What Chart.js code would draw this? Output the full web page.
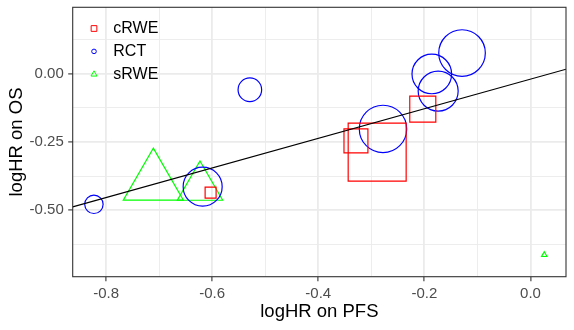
<!DOCTYPE html>
<html>
<head>
<meta charset="utf-8">
<script src="https://cdn.jsdelivr.net/npm/chart.js@4"></script>
<style>
  html, body { margin: 0; padding: 0; background: #fff; }
  #wrap { width: 574px; height: 330px; }
</style>
</head>
<body>
<div id="wrap"><canvas id="c" width="574" height="330"></canvas></div>
<script>
// logHR on PFS (x) against logHR on OS (y); w = study weight (bubble area)
const groups = ['cRWE', 'RCT', 'sRWE'];

const crweX = [-0.289, -0.329, -0.203, -0.603];
const crweY = [-0.287, -0.246, -0.129, -0.436];
const crweW = [66.9, 11.4, 13.5, 2.4];

const rctX = [-0.823, -0.618, -0.529, -0.278, -0.186, -0.174, -0.129];
const rctY = [-0.479, -0.414, -0.058, -0.202, 0.000, -0.063, 0.077];
const rctW = [5.3, 23.8, 8.7, 35.1, 24.5, 25.0, 33.9];

const srweX = [-0.711, -0.623, 0.026];
const srweY = [-0.400, -0.416, -0.665];
const srweW = [31.1, 17.7, 0.25];

// fitted line
const fitIntercept = -0.019;
const fitSlope = 0.544;

const xLimits = [-0.863, 0.067];
const yLimits = [-0.745, 0.245];
const xMajor = [-0.8, -0.6, -0.4, -0.2, 0.0];
const xMajorLabels = ['-0.8', '-0.6', '-0.4', '-0.2', '0.0'];
const xMinor = [-0.7, -0.5, -0.3, -0.1];
const yMajor = [0.0, -0.25, -0.5];
const yMajorLabels = ['0.00', '-0.25', '-0.50'];
const yMinor = [0.125, -0.125, -0.375, -0.625];

const FONT = "'Liberation Sans', Arial, sans-serif";

// ggplot-like area scaling, then per-shape adjustment so shapes have equal area
const sizeR = w => 4 * Math.sqrt(w);
const shapeK = { rect: 1.253, circle: 1, triangle: 1.555 };

function pts(xs, ys) {
  return xs.map((x, i) => ({ x: x, y: ys[i] }));
}
function idx(v, arr) {
  return arr.findIndex(a => Math.abs(a - v) < 1e-9);
}
function allTicks(maj, min) {
  return maj.concat(min).sort((a, b) => a - b).map(v => ({ value: v }));
}

function pointSet(label, xs, ys, ws, style, color) {
  return {
    label: label,
    data: pts(xs, ys),
    pointStyle: style,
    pointRadius: ws.map(w => sizeR(w) * shapeK[style]),
    pointHoverRadius: ws.map(w => sizeR(w) * shapeK[style]),
    pointBorderColor: color,
    pointBackgroundColor: 'rgba(0,0,0,0)',
    pointBorderWidth: 1.2,
    showLine: false
  };
}

const fitLine = {
  label: 'fit',
  data: xLimits.map(x => ({ x: x, y: fitIntercept + fitSlope * x })),
  showLine: true,
  borderColor: '#000000',
  borderWidth: 1.1,
  pointRadius: 0,
  pointHoverRadius: 0
};

const panelAndLegend = {
  id: 'panelAndLegend',
  afterDraw(chart) {
    const ctx = chart.ctx;
    const a = chart.chartArea;
    ctx.save();
    // legend inside the panel, top left
    const keyX = a.left + 21.3;
    const textX = a.left + 40.6;
    const colors = ['#FF0000', '#0000FF', '#00FF00'];
    groups.forEach((g, i) => {
      const y = a.top + 21.2 + i * 22.9;
      ctx.strokeStyle = colors[i];
      ctx.lineWidth = 1;
      ctx.beginPath();
      if (i === 0) {
        ctx.rect(keyX - 2.85, y - 2.85, 5.7, 5.7);
      } else if (i === 1) {
        ctx.arc(keyX, y, 2.3, 0, Math.PI * 2);
      } else {
        const r = 3.5;
        ctx.moveTo(keyX, y - r);
        ctx.lineTo(keyX + r * 0.866, y + r / 2);
        ctx.lineTo(keyX - r * 0.866, y + r / 2);
        ctx.closePath();
      }
      ctx.stroke();
      ctx.fillStyle = '#000000';
      ctx.font = '16px ' + FONT;
      ctx.textBaseline = 'middle';
      ctx.textAlign = 'left';
      ctx.fillText(g, textX, y + 0.5);
    });
    // panel border
    ctx.strokeStyle = '#333333';
    ctx.lineWidth = 1.1;
    ctx.strokeRect(a.left, a.top, a.right - a.left, a.bottom - a.top);
    ctx.restore();
  }
};

new Chart(document.getElementById('c'), {
  type: 'scatter',
  data: {
    datasets: [
      fitLine,
      pointSet(groups[0], crweX, crweY, crweW, 'rect', '#FF0000'),
      pointSet(groups[1], rctX, rctY, rctW, 'circle', '#0000FF'),
      pointSet(groups[2], srweX, srweY, srweW, 'triangle', '#00FF00')
    ]
  },
  options: {
    responsive: false,
    animation: false,
    events: [],
    layout: { autoPadding: false, padding: { top: 7.3, right: 8, bottom: 0, left: 0 } },
    plugins: { legend: { display: false }, tooltip: { enabled: false } },
    scales: {
      x: {
        type: 'linear',
        min: xLimits[0],
        max: xLimits[1],
        afterBuildTicks: s => { s.ticks = allTicks(xMajor, xMinor); },
        afterFit: s => { s.height = 53.3; s.paddingLeft = 0; s.paddingRight = 0; },
        border: { display: false },
        grid: {
          color: '#EBEBEB',
          lineWidth: c => (c.tick && idx(c.tick.value, xMajor) >= 0 ? 1.8 : 0.9),
          tickLength: 4.5,
          tickWidth: 1.1,
          tickColor: c => (c.tick && idx(c.tick.value, xMajor) >= 0 ? '#333333' : 'rgba(0,0,0,0)')
        },
        ticks: {
          autoSkip: false,
          maxRotation: 0,
          padding: 4,
          color: '#4D4D4D',
          font: { family: FONT, size: 15 },
          callback: v => { const i = idx(v, xMajor); return i >= 0 ? xMajorLabels[i] : ''; }
        },
        title: {
          display: true,
          text: 'logHR on PFS',
          color: '#000000',
          font: { family: FONT, size: 18.5 },
          padding: { top: 0, bottom: 7.4 }
        }
      },
      y: {
        type: 'linear',
        min: yLimits[0],
        max: yLimits[1],
        afterBuildTicks: s => { s.ticks = allTicks(yMajor, yMinor); },
        afterFit: s => { s.width = 72.7; s.paddingTop = 0; s.paddingBottom = 0; },
        border: { display: false },
        grid: {
          color: '#EBEBEB',
          lineWidth: c => (c.tick && idx(c.tick.value, yMajor) >= 0 ? 1.8 : 0.9),
          tickLength: 4.5,
          tickWidth: 1.1,
          tickColor: c => (c.tick && idx(c.tick.value, yMajor) >= 0 ? '#333333' : 'rgba(0,0,0,0)')
        },
        ticks: {
          autoSkip: false,
          padding: 4.4,
          color: '#4D4D4D',
          font: { family: FONT, size: 15 },
          callback: v => { const i = idx(v, yMajor); return i >= 0 ? yMajorLabels[i] : ''; }
        },
        title: {
          display: true,
          text: 'logHR on OS',
          color: '#000000',
          font: { family: FONT, size: 18.5 },
          padding: { top: 6.3, bottom: 0 }
        }
      }
    }
  },
  plugins: [panelAndLegend]
});
</script>
</body>
</html>
